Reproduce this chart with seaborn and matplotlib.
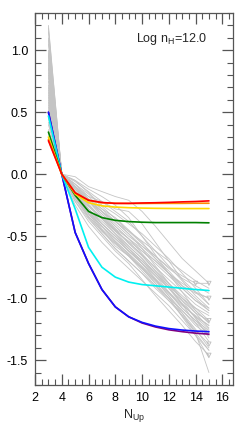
import numpy as np
import pandas as pd
import seaborn as sns
import matplotlib
matplotlib.use("Agg")
import matplotlib.pyplot as plt
from matplotlib.ticker import MultipleLocator

# upper level N_up
n_up = [3, 4, 5, 6, 7, 8, 9, 10, 11, 12, 13, 14, 15]

# grey: observed / individual model curves (normalised at N_up = 4)
grey_curves = [
    [1.20, 0, -0.10, -0.25, -0.35, -0.45, -0.55, -0.65, -0.78, -0.90, -1.05, -1.20, -1.35],
    [1.15, 0, -0.15, -0.30, -0.40, -0.50, -0.62, -0.72, -0.82, -0.95, -1.08, -1.18, -1.30],
    [1.10, 0, -0.02, -0.10, -0.14, -0.18, -0.21, -0.30, -0.42, -0.55, -0.68, -0.78, -0.88],
    [1.05, 0, -0.12, -0.20, -0.28, -0.35, -0.45, -0.55, -0.68, -0.80, -0.92, -1.02, -1.10],
    [1.00, 0, -0.18, -0.32, -0.45, -0.55, -0.65, -0.75, -0.85, -0.95, -1.05, -1.15, -1.22],
    [0.98, 0, -0.08, -0.18, -0.22, -0.28, -0.30, -0.40, -0.55, -0.70, -0.85, -0.95, -1.05],
    [0.95, 0, -0.20, -0.35, -0.48, -0.60, -0.70, -0.80, -0.92, -1.02, -1.12, -1.25, -1.40],
    [0.92, 0, -0.10, -0.22, -0.32, -0.42, -0.52, -0.62, -0.70, -0.80, -0.88, -0.95, -1.00],
    [0.90, 0, -0.15, -0.28, -0.38, -0.48, -0.60, -0.70, -0.82, -0.92, -1.02, -1.12, -1.18],
    [0.88, 0, -0.05, -0.15, -0.25, -0.32, -0.40, -0.48, -0.58, -0.68, -0.80, -0.92, -1.05],
    [0.85, 0, -0.22, -0.38, -0.50, -0.62, -0.72, -0.85, -0.98, -1.10, -1.22, -1.35, -1.46],
    [0.82, 0, -0.12, -0.25, -0.35, -0.45, -0.55, -0.65, -0.75, -0.85, -0.95, -1.05, -1.12],
    [0.80, 0, -0.18, -0.30, -0.42, -0.52, -0.62, -0.72, -0.85, -0.98, -1.10, -1.22, -1.30],
    [0.78, 0, -0.08, -0.20, -0.30, -0.40, -0.50, -0.58, -0.66, -0.75, -0.82, -0.88, -0.88],
    [0.75, 0, -0.25, -0.42, -0.55, -0.66, -0.76, -0.86, -0.96, -1.06, -1.18, -1.30, -1.42],
    [0.72, 0, -0.10, -0.18, -0.28, -0.38, -0.48, -0.58, -0.68, -0.78, -0.90, -1.00, -1.10],
    [0.70, 0, -0.15, -0.28, -0.40, -0.50, -0.60, -0.70, -0.80, -0.92, -1.05, -1.15, -1.25],
    [0.68, 0, -0.20, -0.32, -0.45, -0.58, -0.66, -0.76, -0.88, -1.00, -1.15, -1.30, -1.48],
    [0.66, 0, -0.12, -0.22, -0.32, -0.44, -0.56, -0.66, -0.78, -0.88, -0.98, -1.08, -1.18],
    [0.64, 0, -0.05, -0.12, -0.18, -0.25, -0.35, -0.50, -0.65, -0.80, -0.95, -1.10, -1.20],
    [0.62, 0, -0.18, -0.34, -0.46, -0.56, -0.66, -0.78, -0.90, -1.02, -1.14, -1.26, -1.37],
    [0.60, 0, -0.14, -0.26, -0.36, -0.46, -0.54, -0.62, -0.72, -0.82, -0.92, -1.02, -1.08],
    [0.58, 0, -0.22, -0.36, -0.48, -0.60, -0.70, -0.80, -0.90, -1.00, -1.10, -1.20, -1.28],
    [0.56, 0, -0.10, -0.22, -0.34, -0.44, -0.52, -0.60, -0.70, -0.80, -0.90, -0.96, -1.00],
    [0.54, 0, -0.16, -0.30, -0.44, -0.54, -0.64, -0.74, -0.86, -0.98, -1.12, -1.28, -1.60],
    [0.52, 0, -0.12, -0.24, -0.36, -0.48, -0.58, -0.68, -0.80, -0.90, -1.00, -1.10, -1.20],
    [0.50, 0, -0.20, -0.34, -0.46, -0.56, -0.66, -0.76, -0.86, -0.96, -1.06, -1.14, -1.22],
    [0.48, 0, -0.08, -0.16, -0.26, -0.36, -0.46, -0.56, -0.66, -0.76, -0.84, -0.90, -0.96],
    [0.45, 0, -0.14, -0.28, -0.40, -0.50, -0.60, -0.72, -0.84, -0.96, -1.08, -1.18, -1.26],
    [0.42, 0, -0.18, -0.32, -0.42, -0.52, -0.62, -0.70, -0.80, -0.90, -1.00, -1.08, -1.14],
    [0.40, 0, -0.10, -0.20, -0.30, -0.42, -0.52, -0.64, -0.76, -0.88, -1.00, -1.12, -1.24],
    [0.36, 0, -0.12, -0.22, -0.30, -0.38, -0.46, -0.54, -0.62, -0.70, -0.78, -0.86, -0.92],
    [1.18, 0, -0.16, -0.30, -0.42, -0.54, -0.64, -0.76, -0.88, -1.00, -1.14, -1.28, -1.42],
    [1.08, 0, -0.06, -0.14, -0.22, -0.30, -0.38, -0.50, -0.62, -0.74, -0.86, -0.98, -1.08],
    [0.96, 0, -0.14, -0.26, -0.36, -0.46, -0.58, -0.68, -0.80, -0.92, -1.04, -1.16, -1.32],
    [0.86, 0, -0.12, -0.22, -0.30, -0.38, -0.48, -0.60, -0.74, -0.88, -1.02, -1.16, -1.28],
]

# upper limits (open triangles)
limit_x = [14, 15, 15, 15, 15, 15]
limit_y = [-0.88, -0.88, -1.00, -1.18, -1.37, -1.46]

# coloured model curves
model_names = ["purple", "blue", "cyan", "green", "yellow", "orange", "red"]
model_colors = ["#800080", "#1010ff", "#00f0f0", "#008000", "#ffd800", "#ff8c00", "#ff0000"]
model_curves = [
    [0.50, 0, -0.47, -0.72, -0.93, -1.07, -1.15, -1.20, -1.232, -1.255, -1.270, -1.282, -1.290],
    [0.50, 0, -0.47, -0.72, -0.93, -1.07, -1.15, -1.195, -1.225, -1.245, -1.257, -1.265, -1.270],
    [0.47, 0, -0.28, -0.59, -0.75, -0.83, -0.87, -0.89, -0.90, -0.91, -0.92, -0.93, -0.938],
    [0.34, 0, -0.17, -0.30, -0.35, -0.372, -0.382, -0.387, -0.39, -0.39, -0.39, -0.39, -0.392],
    [0.30, 0, -0.16, -0.23, -0.255, -0.265, -0.27, -0.273, -0.275, -0.276, -0.277, -0.277, -0.277],
    [0.28, 0, -0.15, -0.21, -0.23, -0.235, -0.236, -0.236, -0.235, -0.235, -0.235, -0.234, -0.234],
    [0.27, 0, -0.15, -0.21, -0.228, -0.235, -0.235, -0.232, -0.23, -0.227, -0.223, -0.22, -0.215],
]

sns.set_style("ticks")
plt.rcParams["font.family"] = ["Liberation Sans", "DejaVu Sans"]
plt.rcParams["mathtext.default"] = "regular"

grey_df = pd.DataFrame(
    [(i, x, y) for i, c in enumerate(grey_curves) for x, y in zip(n_up, c)],
    columns=["curve", "n_up", "ratio"],
)
model_df = pd.DataFrame(
    [(name, x, y) for name, c in zip(model_names, model_curves) for x, y in zip(n_up, c)],
    columns=["model", "n_up", "ratio"],
)

fig = plt.figure(figsize=(2.4, 4.28), dpi=100)
ax = fig.add_axes([0.146, 0.1005, 0.825, 0.869])

sns.lineplot(data=grey_df, x="n_up", y="ratio", units="curve", estimator=None,
             color="#c4c4c4", lw=0.6, ax=ax, legend=False)
ax.scatter(limit_x, limit_y, marker="v", s=9, facecolors="none",
           edgecolors="#bdbdbd", linewidths=0.6, zorder=3)
sns.lineplot(data=model_df, x="n_up", y="ratio", hue="model", hue_order=model_names,
             palette=dict(zip(model_names, model_colors)), estimator=None,
             lw=1.2, ax=ax, legend=False)

ax.set_xlim(2, 16.8)
ax.set_ylim(-1.7, 1.3)
ax.xaxis.set_major_locator(MultipleLocator(2))
ax.xaxis.set_minor_locator(MultipleLocator(0.5))
ax.yaxis.set_major_locator(MultipleLocator(0.5))
ax.yaxis.set_minor_locator(MultipleLocator(0.1))
ax.yaxis.set_major_formatter(matplotlib.ticker.FormatStrFormatter("%.1f"))
ax.tick_params(which="both", direction="in", top=True, right=True,
               color="#555555", labelsize=9, labelcolor="black", pad=5)
ax.tick_params(which="major", length=8, width=0.9)
ax.tick_params(which="minor", length=4, width=0.8)
for s in ax.spines.values():
    s.set_color("#555555")
    s.set_linewidth(0.9)

ax.set_xlabel("N$_{Up}$", fontsize=9, labelpad=2)
ax.set_ylabel("")
ax.text(0.87, 0.93, "Log n$_H$=12.0", transform=ax.transAxes,
        ha="right", va="center", fontsize=9)

fig.savefig("out.png", dpi=100)
